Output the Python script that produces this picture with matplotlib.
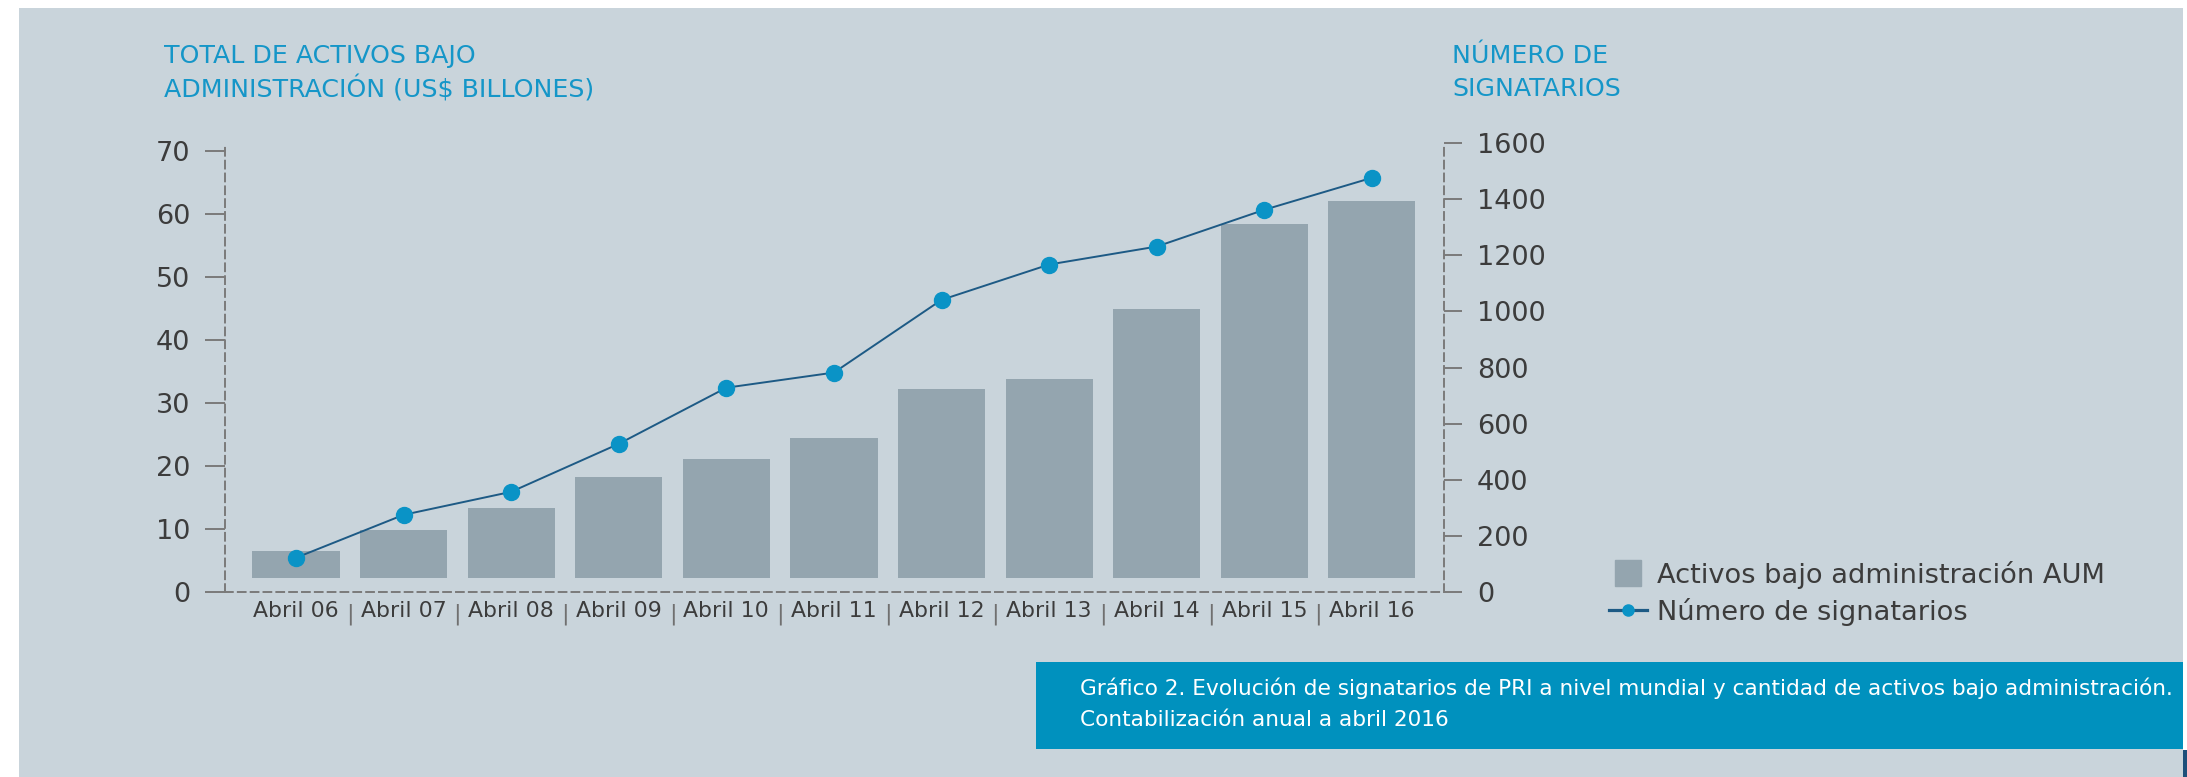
import numpy as np
import matplotlib
matplotlib.use("Agg")
import matplotlib.pyplot as plt
import matplotlib.transforms as mtransforms
from matplotlib.lines import Line2D
from matplotlib.patches import Rectangle

etiquetas = ["Abril 06", "Abril 07", "Abril 08", "Abril 09", "Abril 10", "Abril 11",
             "Abril 12", "Abril 13", "Abril 14", "Abril 15", "Abril 16"]
aum = [6.5, 9.8, 13.3, 18.2, 21.1, 24.4, 32.2, 33.8, 44.9, 58.4, 62.1]
signatarios = [122, 275, 357, 528, 728, 782, 1041, 1167, 1231, 1362, 1476]
ticks_aum = [0, 10, 20, 30, 40, 50, 60, 70]
ticks_sig = [0, 200, 400, 600, 800, 1000, 1200, 1400, 1600]

FONDO = "#c9d4db"
BARRA = "#94a5af"
LINEA = "#1d5a85"
PUNTO = "#0a93c6"
AZUL = "#1596c8"
CAJA = "#0091be"
TEXTO = "#3c3c3c"
GRIS = "#7a7a7a"

W, H = 2187, 777
fig = plt.figure(figsize=(W / 100, H / 100), dpi=100)
fig.patch.set_facecolor("white")
fig.add_artist(Rectangle((19 / W, 0), (2183 - 19) / W, (H - 8) / H,
                         transform=fig.transFigure, facecolor=FONDO, edgecolor="none", zorder=-10))

ax = fig.add_axes([225 / W, 1 - 592 / H, (1444 - 225) / W, (592 - 143) / H])
ax.patch.set_visible(False)
x = np.arange(len(etiquetas))

# barras flotando un poco sobre el eje
base = 2.3
ax.bar(x, np.array(aum) - base, bottom=base, width=0.81, color=BARRA, zorder=2)
ax.set_xlim(-0.66, 10.67)
ax.set_ylim(0, 70 * 449 / 441)

ax2 = ax.twinx()
ax2.plot(x, signatarios, color=LINEA, lw=1.4, marker="o", ms=11.5,
         mfc=PUNTO, mec=PUNTO, zorder=3)
ax2.set_ylim(0, 1600)

for s in ["top", "right"]:
    ax.spines[s].set_visible(False)
for s in ["top", "left", "bottom"]:
    ax2.spines[s].set_visible(False)
for sp in [ax.spines["left"], ax.spines["bottom"], ax2.spines["right"]]:
    sp.set_color(GRIS)
    sp.set_linewidth(1.4)
    sp.set_linestyle((0, (4, 2.6)))

ax.set_yticks(ticks_aum)
ax.tick_params(axis="y", direction="out", length=14.4, width=1.4, color=GRIS,
               pad=10.8, labelsize=19.5, labelcolor=TEXTO)
ax.set_xticks(x, etiquetas)
ax.tick_params(axis="x", length=0, pad=6.5, labelsize=15.8, labelcolor=TEXTO)
ax2.set_yticks(ticks_sig)
ax2.tick_params(axis="y", direction="out", length=13, width=1.4, color=GRIS,
                pad=10.8, labelsize=19.5, labelcolor=TEXTO)

trans = mtransforms.blended_transform_factory(ax.transData, ax.transAxes)
for i in range(len(etiquetas) - 1):
    ax.text(i + 0.5, -0.049, "|", transform=trans, ha="center", va="center",
            fontsize=16, color="#707070")

fig.text(164 / W, 1 - 56 / H, "TOTAL DE ACTIVOS BAJO", va="center", fontsize=18.2, color=AZUL)
fig.text(164 / W, 1 - 89 / H, "ADMINISTRACIÓN (US$ BILLONES)", va="center", fontsize=18.2, color=AZUL)
fig.text(1452 / W, 1 - 56 / H, "NÚMERO DE", va="center", fontsize=18.2, color=AZUL)
fig.text(1452 / W, 1 - 89 / H, "SIGNATARIOS", va="center", fontsize=18.2, color=AZUL)

handles = [Line2D([], [], ls="none", marker="s", ms=19.4, mfc=BARRA, mec=BARRA),
           Line2D([], [], color=LINEA, lw=2.3, marker="o", ms=8, mfc=PUNTO, mec=PUNTO)]
fig.legend(handles, ["Activos bajo administración AUM", "Número de signatarios"],
           loc="upper left", bbox_to_anchor=(1609 / W, 1 - 561 / H), frameon=False,
           borderpad=0, borderaxespad=0, handlelength=1.4, handletextpad=0.36,
           labelspacing=0.32, fontsize=19.6, labelcolor=TEXTO)

fig.add_artist(Rectangle((1036 / W, 1 - 748.7 / H), (2183 - 1036) / W, 86.7 / H,
                         transform=fig.transFigure, facecolor=CAJA, edgecolor="none"))
fig.add_artist(Rectangle((2183 / W, 0), 4 / W, 27 / H,
                         transform=fig.transFigure, facecolor="#1d4f7a", edgecolor="none"))
fig.text(1080 / W, 1 - 688 / H,
         "Gráfico 2. Evolución de signatarios de PRI a nivel mundial y cantidad de activos bajo administración.",
         va="center", fontsize=15.6, color="white")
fig.text(1080 / W, 1 - 720 / H, "Contabilización anual a abril 2016",
         va="center", fontsize=15.6, color="white")

fig.savefig("out.png", dpi=100, facecolor=fig.get_facecolor())
